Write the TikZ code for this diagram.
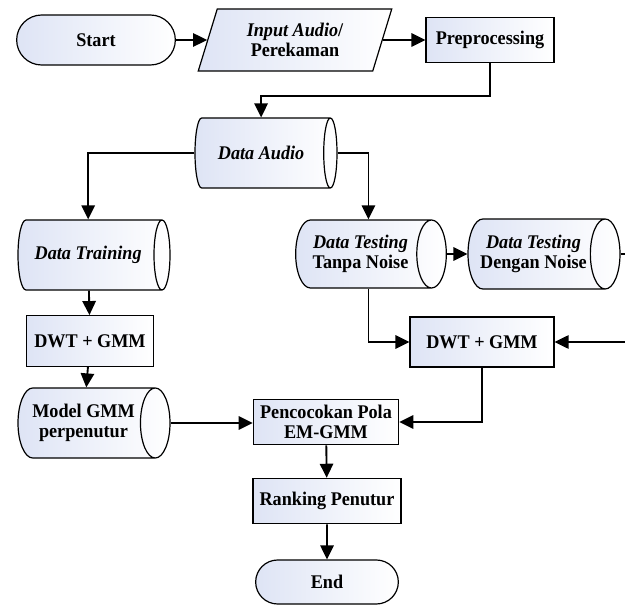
\documentclass[tikz,border=0pt]{standalone}
\usepackage{fontspec}
\setmainfont{Liberation Serif}[FakeStretch=0.94]
\usetikzlibrary{shapes.geometric, shapes.misc, arrows.meta}
\definecolor{shadeblue}{RGB}{222, 228, 245}

\tikzset{
  base/.style={draw, line width=0.9pt, left color=shadeblue, right color=white,
    font=\fontsize{14.5}{14.5}\selectfont\bfseries, align=center, inner sep=2pt},
  terminal/.style={base, rounded rectangle},
  procbox/.style={base, rectangle},
  iobox/.style={base, trapezium, trapezium left angle=72, trapezium right angle=108,
    trapezium stretches=true},
  % cylinder: width/height are along its own axis, so swapped here
  datastore/.style={base, cylinder, shape aspect=0.7, inner xsep=1pt, anchor=shape center,
    minimum height=114pt, minimum width=52.5pt},
  flow/.style={line width=1.4pt, -{Triangle[length=10.5pt, width=10pt]}}
}

\begin{document}
\begin{tikzpicture}[x=0.75pt, y=-0.75pt]
  \path[use as bounding box, clip] (0,0) rectangle (625,606);

  % Top row
  \node[terminal, minimum width=123pt, minimum height=37.5pt] (start) at (96,40) {Start};
  \node[iobox, minimum width=145.5pt, minimum height=46.5pt] (input) at (295,40) {\textit{Input Audio}/\\Perekaman};
  \node[procbox, minimum width=96pt, minimum height=34pt] (prep) at (490,40) {Preprocessing};

  % Data stores
  \node[datastore, minimum height=106.5pt] (audio) at (266,153) {\textit{Data Audio}};
  \node[datastore] (train) at (94,255) {\textit{Data Training}};
  \node[datastore, minimum height=113pt, minimum width=51pt] (tanpa) at (371,254) {\textit{Data Testing}\\Tanpa Noise};
  \node[datastore] (dengan) at (544,254) {\textit{Data Testing}\\Dengan Noise};

  % Feature extraction
  \node[procbox, minimum width=95pt, minimum height=38pt] (dwtA) at (90,341) {DWT + GMM};
  \node[procbox, minimum width=108pt, minimum height=37.5pt] (dwtB) at (482,342) {DWT + GMM};
  \node[datastore] (model) at (94,423) {Model GMM\\perpenutur};

  % Matching and result
  \node[procbox, minimum width=109pt, minimum height=34pt, inner sep=1pt] (match) at (326,422) {Pencocokan Pola\\EM-GMM};
  \node[procbox, minimum width=111pt, minimum height=34pt] (rank) at (327,501) {Ranking Penutur};
  \node[terminal, minimum width=111pt, minimum height=33pt] (end) at (327,582) {End};

  % Connectors
  \draw[flow] (start) -- (input);
  \draw[flow] (input) -- (prep);
  \draw[flow] (prep.south) -- ++(0,33) -| (audio.north);
  \draw[flow] (audio.west) -| (train.north);
  \draw[flow] (audio.east) -| ([xshift=6pt]tanpa.north);
  \draw[flow] (train) -- (dwtA);
  \draw[flow] (dwtA) -- (model);
  \draw[flow] (model.east) -- (model.east -| match.west);
  \draw[flow] (tanpa) -- (dengan);
  \draw[flow] ([xshift=6pt]tanpa.south) |- (dwtB.west);
  \draw[flow] (dengan.east) -- ++(20,0) |- (dwtB.east);
  \draw[flow] (dwtB.south) |- (match.east);
  \draw[flow] (match) -- (rank);
  \draw[flow] (rank) -- (end);
\end{tikzpicture}
\end{document}
